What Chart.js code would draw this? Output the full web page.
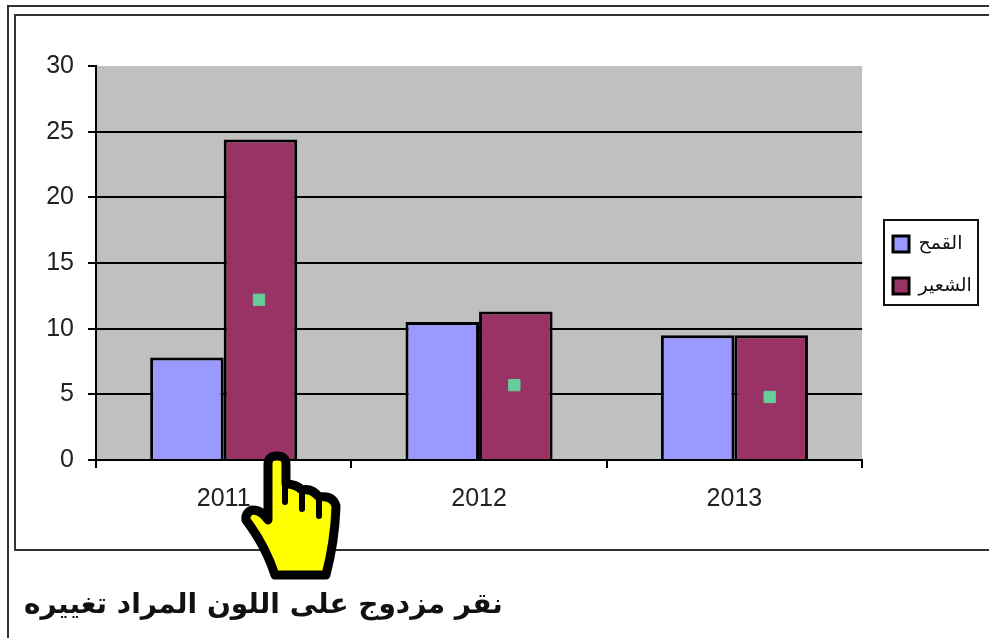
<!DOCTYPE html>
<html lang="ar"><head><meta charset="utf-8">
<style>
html,body{margin:0;padding:0;background:#fff;width:989px;height:638px;overflow:hidden}
#wrap{position:relative;width:989px;height:638px}
canvas{position:absolute;left:0;top:0}
.f{position:absolute;background:#333}
#cap{position:absolute;left:24px;top:587px;width:480px;font:bold 28px "DejaVu Sans",sans-serif;color:#111;direction:rtl;text-align:left;white-space:nowrap}
svg{position:absolute;left:0;top:0;pointer-events:none}
</style></head><body>
<div id="wrap">
<canvas id="c" width="989" height="638"></canvas>
<div class="f" style="left:7px;top:5px;width:982px;height:2px"></div>
<div class="f" style="left:7px;top:5px;width:2px;height:633px"></div>
<div class="f" style="left:14px;top:14px;width:975px;height:2px"></div>
<div class="f" style="left:14px;top:14px;width:2px;height:537px"></div>
<div class="f" style="left:14px;top:549px;width:975px;height:2px"></div>
<div id="cap">نقر مزدوج على اللون المراد تغييره</div>
<svg width="989" height="638"><g fill="#ff0" stroke="#000" stroke-width="9" stroke-linejoin="round" stroke-linecap="round">
<path d="M268 520 L268 464 Q268 456 277 456 Q286 456 286 464 L286 484 Q296 484 302 490 Q312 488 319 497 Q333 495 336 506 Q335 540 326 575 L275 575 Q265 545 246 520 Q245 513 252 510 Q262 510 268 520 Z"/>
<path fill="none" stroke-width="6" d="M285 488 L285 502 M302 492 L302 509 M319 499 L319 516"/></g></svg>
</div>
<script src="https://cdn.jsdelivr.net/npm/chart.js@4"></script>
<script>
const categories = ['2011','2012','2013'];
const wheatLabel = 'القمح';
const barleyLabel = 'الشعير';
const wheat = [7.8,10.5,9.5];
const barley = [24.4,11.3,9.5];
const markerY = [12.2,5.7,4.8];
const yTicks = [0,5,10,15,20,25,30];

const frames = {
  id:'frames',
  beforeDraw(chart){
    const {ctx,chartArea:a}=chart;
    ctx.save();ctx.fillStyle='#C0C0C0';ctx.fillRect(a.left,a.top,a.right-a.left,a.bottom-a.top);ctx.restore();
  },
  afterLayout(chart){
    const l=chart.legend;
    l.left=870;l.right=l.left+l.width;l.top=-21;l.bottom=l.top+l.height;
  },
  afterDatasetsUpdate(chart){
    const bars=chart.getDatasetMeta(1).data, pts=chart.getDatasetMeta(2).data;
    pts.forEach((p,i)=>{p.x=bars[i].x-1.5;});
  },
  afterDraw(chart){
    const ctx=chart.ctx;
    ctx.save();ctx.strokeStyle='#111';ctx.lineWidth=2;
    ctx.strokeRect(884,220,94,85);ctx.restore();
  }
};
new Chart(document.getElementById('c'),{
  type:'bar',
  data:{labels:categories,datasets:[
    {label:wheatLabel,data:wheat,backgroundColor:'#9999FF',borderColor:'#000',borderWidth:3,order:2,barPercentage:1,categoryPercentage:0.576},
    {label:barleyLabel,data:barley,backgroundColor:'#993366',borderColor:'#000',borderWidth:3,order:2,barPercentage:1,categoryPercentage:0.576},
    {type:'line',label:'m',data:markerY,showLine:false,backgroundColor:'#66CC99',borderColor:'#66CC99',pointStyle:'rect',pointRadius:8,order:1}
  ]},
  options:{
    responsive:false,animation:false,
    layout:{padding:{left:0,right:15,top:66,bottom:0}},
    plugins:{
      tooltip:{enabled:false},
      legend:{position:'right',align:'center',
        labels:{filter:i=>i.text!=='m',boxWidth:16,boxHeight:16,padding:23,color:'#111',font:{family:'"DejaVu Sans"',size:19}}}
    },
    scales:{
      x:{afterFit:s=>{s.height=178},
        grid:{drawOnChartArea:false,color:'#000',lineWidth:2,tickLength:8,offset:true},border:{color:'#000',width:2},
        ticks:{color:'#222',font:{family:'"Liberation Sans"',size:25},padding:16,maxRotation:0}},
      y:{min:0,max:30,afterFit:s=>{s.width=96},
        afterBuildTicks:s=>{s.ticks=yTicks.map(v=>({value:v}))},
        grid:{color:c=>c.tick&&c.tick.value===30?'rgba(0,0,0,0)':'#000',tickColor:'#000',lineWidth:2,tickLength:8},border:{color:'#000',width:2},
        ticks:{color:'#222',font:{family:'"Liberation Sans"',size:25},padding:14}}
    }
  },
  plugins:[frames]
});
</script>
</body></html>
